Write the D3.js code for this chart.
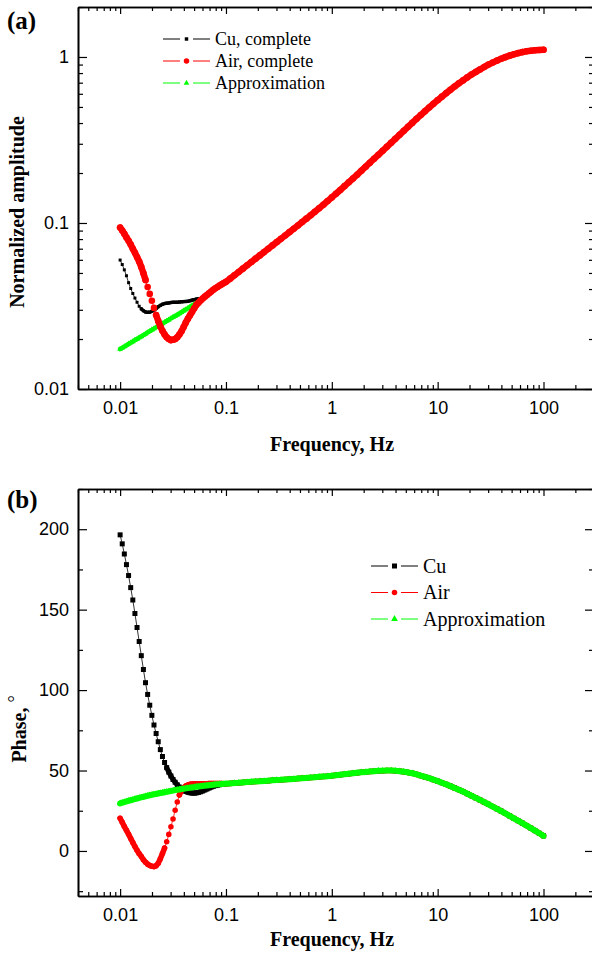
<!DOCTYPE html>
<html>
<head>
<meta charset="utf-8">
<script src="https://cdn.jsdelivr.net/npm/d3@7"></script>
<style>
  body { margin: 0; background: #fff; }
  svg { display: block; }
</style>
</head>
<body>
<svg id="chart" width="592" height="955"></svg>
<script>
// frequency grid (Hz): dense below 0.1 Hz, coarser above
const freqLow = [0.01, 0.01047, 0.01096, 0.01148, 0.01202, 0.01259, 0.01318, 0.0138, 0.01445, 0.01514,
  0.01585, 0.0166, 0.01738, 0.0182, 0.01905, 0.01995, 0.02089, 0.02188, 0.02291, 0.02399,
  0.02512, 0.0263, 0.02754, 0.02884, 0.0302, 0.03162, 0.03311, 0.03467, 0.03631, 0.03802,
  0.03981, 0.04169, 0.04365, 0.04571, 0.04786, 0.05012, 0.05248, 0.05495, 0.05754, 0.06026,
  0.0631, 0.06607, 0.06918, 0.07244, 0.07586, 0.07943, 0.08318, 0.0871, 0.0912, 0.0955];
const freqHigh = [0.1, 0.1096, 0.1202, 0.1318, 0.1445, 0.1585, 0.1738, 0.1905, 0.2089, 0.2291,
  0.2512, 0.2754, 0.302, 0.3311, 0.3631, 0.3981, 0.4365, 0.4786, 0.5248, 0.5754,
  0.631, 0.6918, 0.7586, 0.8318, 0.912, 1, 1.096, 1.202, 1.318, 1.445,
  1.585, 1.738, 1.905, 2.089, 2.291, 2.512, 2.754, 3.02, 3.311, 3.631,
  3.981, 4.365, 4.786, 5.248, 5.754, 6.31, 6.918, 7.586, 8.318, 9.12,
  10, 10.96, 12.02, 13.18, 14.45, 15.85, 17.38, 19.05, 20.89, 22.91,
  25.12, 27.54, 30.2, 33.11, 36.31, 39.81, 43.65, 47.86, 52.48, 57.54,
  63.1, 69.18, 75.86, 83.18, 91.2, 100];

// (a) normalized amplitude, below 0.1 Hz per curve
const ampCuLow = [0.0598, 0.0562, 0.0522, 0.0481, 0.0437, 0.0403, 0.0376, 0.0353, 0.0333, 0.0315,
  0.0304, 0.0296, 0.0291, 0.0290, 0.0290, 0.0294, 0.0299, 0.0305, 0.0313, 0.0319,
  0.0324, 0.0327, 0.0329, 0.0330, 0.0332, 0.0333, 0.0333, 0.0333, 0.0334, 0.0335,
  0.0336, 0.0337, 0.0338, 0.0340, 0.0343, 0.0345, 0.0348, 0.0349, 0.0350, 0.0351,
  0.0360, 0.0368, 0.0377, 0.0386, 0.0396, 0.0404, 0.0412, 0.0420, 0.0427, 0.0435];
const ampAirLow = [0.0938, 0.0902, 0.0861, 0.0818, 0.0782, 0.0741, 0.0700, 0.0661, 0.0624, 0.0586,
  0.0543, 0.0498, 0.0453, 0.0412, 0.0374, 0.0340, 0.0308, 0.0279, 0.0257, 0.0238,
  0.0224, 0.0213, 0.0205, 0.0200, 0.0197, 0.0198, 0.0200, 0.0205, 0.0213, 0.0223,
  0.0236, 0.0251, 0.0265, 0.0278, 0.0292, 0.0306, 0.0321, 0.0331, 0.0341, 0.0351,
  0.0360, 0.0368, 0.0377, 0.0386, 0.0396, 0.0404, 0.0412, 0.0420, 0.0427, 0.0435];
const ampApproxLow = [0.0174, 0.0177, 0.0180, 0.0183, 0.0187, 0.0190, 0.0193, 0.0197, 0.0200, 0.0204,
  0.0207, 0.0211, 0.0215, 0.0219, 0.0223, 0.0227, 0.0231, 0.0235, 0.0239, 0.0243,
  0.0248, 0.0252, 0.0257, 0.0261, 0.0266, 0.0271, 0.0275, 0.0280, 0.0285, 0.0290,
  0.0296, 0.0301, 0.0306, 0.0312, 0.0318, 0.0323, 0.0329, 0.0335, 0.0342, 0.0349,
  0.0358, 0.0368, 0.0377, 0.0386, 0.0396, 0.0404, 0.0412, 0.0420, 0.0427, 0.0435];
// above 0.1 Hz the three curves lie on top of each other
const ampHigh = [0.0442, 0.0462, 0.0484, 0.0507, 0.0531, 0.0556, 0.0582, 0.0610, 0.0638, 0.0668,
  0.0700, 0.0733, 0.0767, 0.0804, 0.0841, 0.0881, 0.0923, 0.0966, 0.1014, 0.1062,
  0.1114, 0.1169, 0.1227, 0.1288, 0.1355, 0.1426, 0.1500, 0.1581, 0.1667, 0.1758,
  0.1854, 0.1954, 0.2065, 0.2183, 0.2307, 0.2438, 0.2576, 0.2723, 0.2877, 0.3041,
  0.3214, 0.3396, 0.3589, 0.3793, 0.4009, 0.4236, 0.4467, 0.4710, 0.4966, 0.5224,
  0.5495, 0.5768, 0.6053, 0.6339, 0.6637, 0.6934, 0.7228, 0.7534, 0.7834, 0.8128,
  0.8414, 0.8710, 0.8995, 0.9247, 0.9506, 0.9750, 0.9977, 1.0186, 1.0375, 1.0544,
  1.0690, 1.0814, 1.0889, 1.0965, 1.1015, 1.1041];

// (b) phase in degrees
const phaseCuLow = [196.5, 190.9, 184.6, 178.0, 171.2, 163.7, 156.0, 147.6, 138.9, 130.2,
  121.4, 112.8, 104.6, 97.3, 90.6, 84.3, 78.3, 73.0, 67.9, 63.0,
  58.7, 55.0, 51.8, 49.0, 46.6, 44.4, 42.7, 41.1, 39.7, 38.6,
  37.7, 37.0, 36.5, 36.2, 36.0, 36.0, 36.1, 36.4, 36.8, 37.3,
  37.9, 38.5, 39.1, 39.7, 40.2, 40.6, 40.9, 41.2, 41.4, 41.6];
const phaseAirLow = [20.3, 17.8, 15.2, 12.8, 10.4, 7.8, 5.2, 2.8, 0.4, -1.7,
  -3.4, -5.4, -7.0, -8.2, -9.0, -9.5, -9.7, -9.2, -7.6, -4.9,
  -1.6, 1.8, 5.7, 10.3, 15.1, 19.9, 25.3, 30.4, 34.8, 37.7,
  39.4, 40.4, 41.0, 41.4, 41.6, 41.7, 41.7, 41.7, 41.7, 41.7,
  41.8, 41.8, 41.9, 41.9, 41.9, 41.9, 41.9, 41.9, 41.9, 41.8];
const phaseApproxLow = [29.6, 30.0, 30.4, 30.8, 31.2, 31.5, 31.9, 32.3, 32.6, 33.0,
  33.3, 33.6, 34.0, 34.3, 34.6, 34.9, 35.2, 35.4, 35.7, 36.0,
  36.2, 36.5, 36.8, 37.0, 37.3, 37.5, 37.8, 38.0, 38.2, 38.5,
  38.7, 38.9, 39.1, 39.3, 39.5, 39.7, 39.9, 40.1, 40.2, 40.4,
  40.6, 40.7, 40.9, 41.0, 41.1, 41.3, 41.4, 41.5, 41.6, 41.7];
const phaseHigh = [41.8, 42.0, 42.2, 42.4, 42.6, 42.8, 43.0, 43.2, 43.3, 43.5,
  43.7, 43.9, 44.1, 44.2, 44.4, 44.6, 44.8, 45.0, 45.2, 45.4,
  45.6, 45.8, 46.1, 46.3, 46.5, 46.8, 47.1, 47.4, 47.7, 48.0,
  48.3, 48.6, 48.9, 49.1, 49.4, 49.6, 49.8, 49.9, 50.0, 50.0,
  49.8, 49.6, 49.3, 48.8, 48.3, 47.6, 46.8, 46.0, 45.2, 44.3,
  43.4, 42.4, 41.4, 40.3, 39.2, 38.1, 36.9, 35.6, 34.3, 33.0,
  31.7, 30.3, 29.0, 27.6, 26.2, 24.8, 23.3, 21.8, 20.3, 18.8,
  17.3, 15.8, 14.2, 12.6, 11.0, 9.4];

// ticks and labels
const freqTicks = [0.01, 0.1, 1, 10, 100];
const freqTickLabels = ['0.01', '0.1', '1', '10', '100'];
const ampTicks = [0.01, 0.1, 1];
const ampTickLabels = ['0.01', '0.1', '1'];
const phaseTicks = [0, 50, 100, 150, 200];
const phaseTickLabels = ['0', '50', '100', '150', '200'];
const phaseMinorTicks = [-25, 25, 75, 125, 175, 225];
const ampLegend = ['Cu, complete', 'Air, complete', 'Approximation'];
const phaseLegend = ['Cu', 'Air', 'Approximation'];

const freq = freqLow.concat(freqHigh);
const sans = 'Liberation Sans, Arial, sans-serif';
const serif = 'Liberation Serif, Times New Roman, serif';

const svg = d3.select('#chart');

const x = d3.scaleLog().domain([0.004, 300]).range([78, 594]);

// draw one curve: thin line, solid band where markers pile up, then markers
function drawSeries(g, values, yScale, style) {
  const pts = freq.map((f, i) => [x(f), yScale(values[i])]);

  g.append('path')
    .attr('d', d3.line()(pts))
    .attr('fill', 'none')
    .attr('stroke', style.color)
    .attr('stroke-width', 0.8);

  let band = '';
  for (let i = 1; i < pts.length; i++) {
    const dx = pts[i][0] - pts[i - 1][0];
    const dy = pts[i][1] - pts[i - 1][1];
    if (Math.hypot(dx, dy) < style.size * 1.1) {
      band += `M${pts[i - 1][0]},${pts[i - 1][1]}L${pts[i][0]},${pts[i][1]}`;
    }
  }
  if (band) {
    g.append('path')
      .attr('d', band)
      .attr('fill', 'none')
      .attr('stroke', style.color)
      .attr('stroke-width', style.band)
      .attr('stroke-linecap', 'round')
      .attr('stroke-linejoin', 'round');
  }

  const sym = d3.symbol().type(style.shape).size(style.area);
  g.selectAll(null)
    .data(pts)
    .join('path')
    .attr('transform', d => `translate(${d[0]},${d[1]})`)
    .attr('d', sym)
    .attr('fill', style.color);
}

function drawAxes(g, yScale, yMajor, yLabels, yMinor, top, bottom) {
  const xMinor = x.ticks().filter(v => !freqTicks.includes(v));

  // bottom axis
  g.append('g')
    .attr('transform', `translate(0,${bottom})`)
    .call(d3.axisBottom(x).tickValues(freqTicks).tickFormat((d, i) => freqTickLabels[i])
      .tickSizeInner(-7).tickSizeOuter(0).tickPadding(12));
  g.append('g')
    .attr('transform', `translate(0,${bottom})`)
    .call(d3.axisBottom(x).tickValues(xMinor).tickFormat('').tickSizeInner(-4).tickSizeOuter(0));
  // top axis
  g.append('g')
    .attr('transform', `translate(0,${top})`)
    .call(d3.axisTop(x).tickValues(freqTicks).tickFormat('').tickSizeInner(-7).tickSizeOuter(0));
  g.append('g')
    .attr('transform', `translate(0,${top})`)
    .call(d3.axisTop(x).tickValues(xMinor).tickFormat('').tickSizeInner(-4).tickSizeOuter(0));
  // left axis
  g.append('g')
    .attr('transform', 'translate(78,0)')
    .call(d3.axisLeft(yScale).tickValues(yMajor).tickFormat((d, i) => yLabels[i])
      .tickSizeInner(-9).tickSizeOuter(0).tickPadding(9));
  g.append('g')
    .attr('transform', 'translate(78,0)')
    .call(d3.axisLeft(yScale).tickValues(yMinor).tickFormat('').tickSizeInner(-5).tickSizeOuter(0));
  // right axis (sits just past the page edge)
  g.append('g')
    .attr('transform', 'translate(594,0)')
    .call(d3.axisRight(yScale).tickValues(yMajor).tickFormat('').tickSizeInner(-9).tickSizeOuter(0));
  g.append('g')
    .attr('transform', 'translate(594,0)')
    .call(d3.axisRight(yScale).tickValues(yMinor).tickFormat('').tickSizeInner(-5).tickSizeOuter(0));

  g.selectAll('.domain').attr('stroke', '#000').attr('stroke-width', 1.6);
  g.selectAll('.tick line').attr('stroke', '#000').attr('stroke-width', 1.2);
  g.selectAll('.tick text')
    .attr('font-family', sans)
    .attr('font-size', 18)
    .attr('fill', '#000');
}

function drawLegend(g, labels, styles, lx, ly, step, fontSize, lineLen) {
  labels.forEach((label, i) => {
    const s = styles[i];
    const cy = ly + i * step;
    const row = g.append('g');
    row.append('line')
      .attr('x1', lx).attr('x2', lx + lineLen)
      .attr('y1', cy).attr('y2', cy)
      .attr('stroke', s.color).attr('stroke-width', 1);
    row.append('line')
      .attr('x1', lx + lineLen + 13).attr('x2', lx + 2 * lineLen + 13)
      .attr('y1', cy).attr('y2', cy)
      .attr('stroke', s.color).attr('stroke-width', 1);
    row.append('path')
      .attr('transform', `translate(${lx + lineLen + 6.5},${cy})`)
      .attr('d', d3.symbol().type(s.shape).size(s.legendArea)())
      .attr('fill', s.color);
    row.append('text')
      .attr('x', lx + 2 * lineLen + 18)
      .attr('y', cy + fontSize * 0.33)
      .attr('font-family', serif)
      .attr('font-size', fontSize)
      .text(label);
  });
}

// ---------- panel (a) ----------
const yAmp = d3.scaleLog().domain([0.01, 2]).range([389, 7]);
const ampMinor = yAmp.ticks().filter(v => !ampTicks.some(t => Math.abs(t - v) < 1e-9));
const gA = svg.append('g');

const ampStyles = [
  { color: '#000000', shape: d3.symbolSquare, area: 9, size: 3, band: 3.5, legendArea: 12 },
  { color: '#ff0000', shape: d3.symbolCircle, area: 34, size: 6.5, band: 6.5, legendArea: 24 },
  { color: '#00ff00', shape: d3.symbolTriangle, area: 14, size: 5, band: 4.5, legendArea: 14 }
];
// draw order: Cu, approximation, then Air on top
drawSeries(gA, ampCuLow.concat(ampHigh), yAmp, ampStyles[0]);
drawSeries(gA, ampApproxLow.concat(ampHigh), yAmp, ampStyles[2]);
drawSeries(gA, ampAirLow.concat(ampHigh), yAmp, ampStyles[1]);
drawAxes(gA, yAmp, ampTicks, ampTickLabels, ampMinor, 7, 389);
drawLegend(gA, ampLegend, ampStyles, 163, 39, 22, 18, 17);

gA.append('text').attr('x', 7).attr('y', 29)
  .attr('font-family', serif).attr('font-weight', 'bold').attr('font-size', 25)
  .text('(a)');
gA.append('text').attr('x', 332).attr('y', 451).attr('text-anchor', 'middle')
  .attr('font-family', serif).attr('font-weight', 'bold').attr('font-size', 20)
  .text('Frequency, Hz');
gA.append('text').attr('transform', 'translate(24,212) rotate(-90)').attr('text-anchor', 'middle')
  .attr('font-family', serif).attr('font-weight', 'bold').attr('font-size', 20)
  .text('Normalized amplitude');

// ---------- panel (b) ----------
const yPhase = d3.scaleLinear().domain([-28, 225]).range([896, 489]);
const gB = svg.append('g');

const phaseStyles = [
  { color: '#000000', shape: d3.symbolSquare, area: 25, size: 5, band: 5, legendArea: 25 },
  { color: '#ff0000', shape: d3.symbolCircle, area: 24, size: 5.5, band: 5.5, legendArea: 24 },
  { color: '#00ff00', shape: d3.symbolTriangle, area: 18, size: 6, band: 6, legendArea: 20 }
];
drawSeries(gB, phaseCuLow.concat(phaseHigh), yPhase, phaseStyles[0]);
drawSeries(gB, phaseAirLow.concat(phaseHigh), yPhase, phaseStyles[1]);
drawSeries(gB, phaseApproxLow.concat(phaseHigh), yPhase, phaseStyles[2]);
drawAxes(gB, yPhase, phaseTicks, phaseTickLabels, phaseMinorTicks, 489, 896);
drawLegend(gB, phaseLegend, phaseStyles, 371, 566, 26.5, 20, 17);

gB.append('text').attr('x', 7).attr('y', 508)
  .attr('font-family', serif).attr('font-weight', 'bold').attr('font-size', 25)
  .text('(b)');
gB.append('text').attr('x', 332).attr('y', 946).attr('text-anchor', 'middle')
  .attr('font-family', serif).attr('font-weight', 'bold').attr('font-size', 20)
  .text('Frequency, Hz');
const phaseTitle = gB.append('text').attr('transform', 'translate(26,729) rotate(-90)')
  .attr('text-anchor', 'middle')
  .attr('font-family', serif).attr('font-weight', 'bold').attr('font-size', 20);
phaseTitle.append('tspan').text('Phase, ');
phaseTitle.append('tspan').attr('dy', -5).attr('font-weight', 'normal').attr('font-size', 18).text('°');
</script>
</body>
</html>
